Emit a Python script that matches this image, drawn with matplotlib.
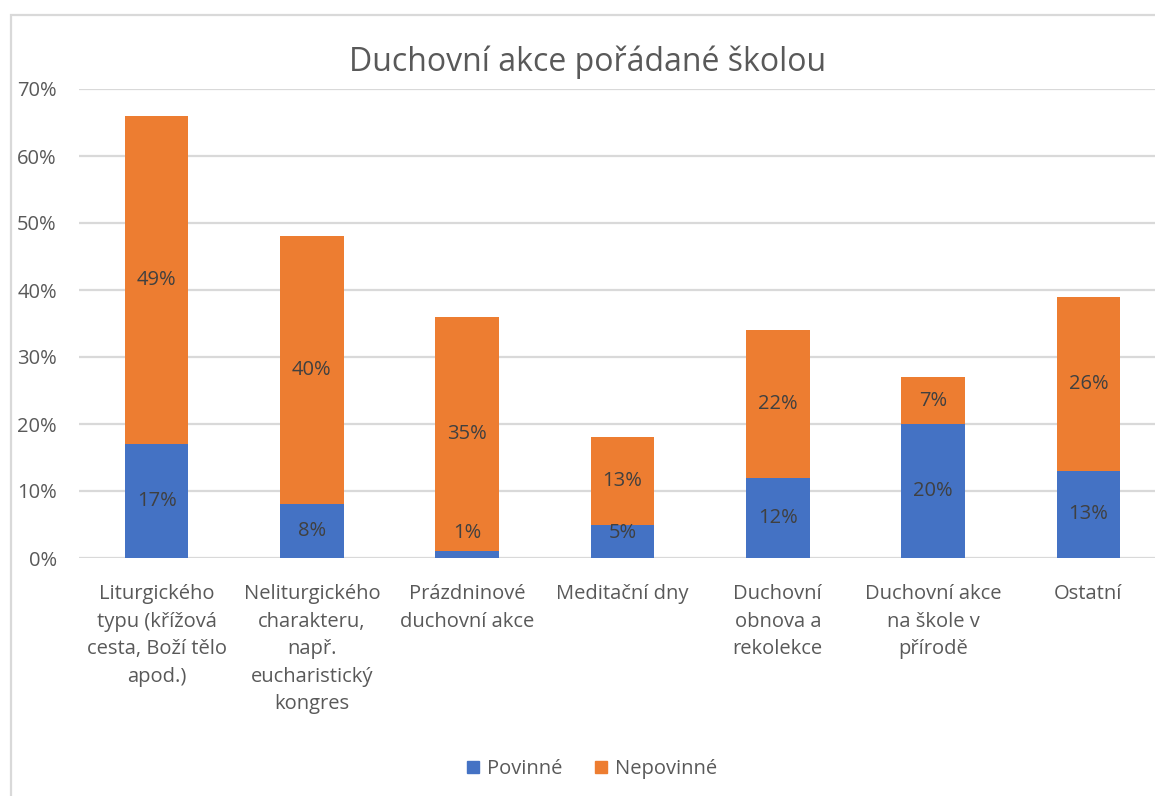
import matplotlib

matplotlib.use("Agg")
import matplotlib.pyplot as plt
from matplotlib.patches import Rectangle
from matplotlib.ticker import MultipleLocator, FuncFormatter

plt.rcParams["font.family"] = ["Open Sans", "DejaVu Sans"]

categories = [
    "Liturgického\ntypu (křížová\ncesta, Boží tělo\napod.)",
    "Neliturgického\ncharakteru,\nnapř.\neucharistický\nkongres",
    "Prázdninové\nduchovní akce",
    "Meditační dny",
    "Duchovní\nobnova a\nrekolekce",
    "Duchovní akce\nna škole v\npřírodě",
    "Ostatní",
]
povinne = [17, 8, 1, 5, 12, 20, 13]
nepovinne = [49, 40, 35, 13, 22, 7, 26]

BLUE = "#4472C4"
ORANGE = "#ED7D31"
TEXT = "#595959"
LABEL = "#404040"
GRID = "#D9D9D9"
FS = 14.5

W, H = 1155, 796
fig = plt.figure(figsize=(W / 100, H / 100), dpi=100)
# axes extends past the right edge, as in the cropped original
ax = fig.add_axes([79 / W, (H - 558) / H, 1087 / W, (558 - 89) / H])

# outer chart frame
fig.patches.append(Rectangle((11 / W, -0.05), 1.2, 1.05 - 15 / H, transform=fig.transFigure,
                             fill=False, edgecolor=GRID, linewidth=1.6, zorder=0))

x = list(range(len(categories)))
ax.bar(x, povinne, width=0.41, color=BLUE, zorder=3, label="Povinné")
ax.bar(x, nepovinne, width=0.41, bottom=povinne, color=ORANGE, zorder=3, label="Nepovinné")

# segment labels; tiny segments get nudged up so the text stays readable (as Excel does)
for xi, p, n in zip(x, povinne, nepovinne):
    ax.text(xi, max(p / 2, 3.8), f"{p}%", ha="center", va="center", fontsize=FS, color=LABEL, zorder=4)
    ax.text(xi, p + n / 2, f"{n}%", ha="center", va="center", fontsize=FS, color=LABEL, zorder=4)

ax.set_xlim(-0.5, len(categories) - 0.5)
ax.set_ylim(0, 70)
ax.yaxis.set_major_locator(MultipleLocator(10))
ax.yaxis.set_major_formatter(FuncFormatter(lambda v, _: f"{v:.0f}%"))
ax.grid(axis="y", color=GRID, linewidth=1.6, zorder=0)
ax.set_axisbelow(True)
for s in ax.spines.values():
    s.set_visible(False)
ax.tick_params(axis="both", length=0, labelsize=FS, colors=TEXT)
ax.tick_params(axis="y", pad=16)
ax.tick_params(axis="x", pad=19)
ax.set_xticks(x)
ax.set_xticklabels(categories, linespacing=1.5)

fig.text(588 / W, 1 - 62 / H, "Duchovní akce pořádané školou", ha="center", va="center",
         fontsize=23, color=TEXT)

handles = [Rectangle((0, 0), 1, 1, color=BLUE), Rectangle((0, 0), 1, 1, color=ORANGE)]
fig.legend(handles, ["Povinné", "Nepovinné"], loc="center", bbox_to_anchor=(592 / W, 1 - 769 / H),
           ncol=2, frameon=False, fontsize=FS, labelcolor=TEXT, handlelength=0.6,
           handleheight=0.6, handletextpad=0.4, columnspacing=1.6)

fig.savefig("out.png", dpi=100)
